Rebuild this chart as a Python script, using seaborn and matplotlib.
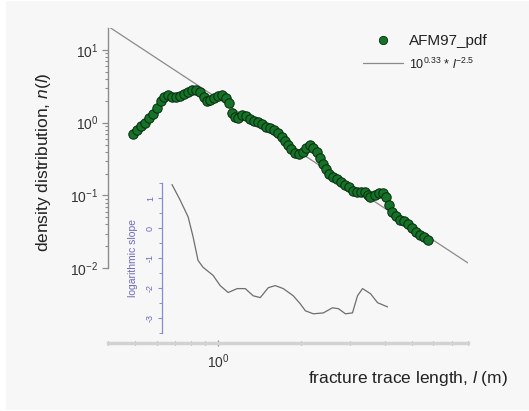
import numpy as np
import pandas as pd
import matplotlib
matplotlib.use("Agg")
import matplotlib.pyplot as plt
from matplotlib.patches import Rectangle
from matplotlib.lines import Line2D
from matplotlib.ticker import LogLocator, FixedLocator, NullFormatter, MultipleLocator
import seaborn as sns

# ---------------- data ----------------
trace_length = [0.492, 0.509, 0.526, 0.544, 0.562, 0.581, 0.601, 0.622, 0.637, 0.659,
                0.681, 0.704, 0.728, 0.753, 0.779, 0.805, 0.832, 0.861, 0.890, 0.912,
                0.935, 0.967, 1.000, 1.034, 1.069, 1.096, 1.124, 1.152, 1.182, 1.222,
                1.263, 1.306, 1.350, 1.396, 1.443, 1.492, 1.543, 1.595, 1.650, 1.706,
                1.749, 1.793, 1.838, 1.901, 1.965, 2.032, 2.084, 2.154, 2.209, 2.284,
                2.342, 2.401, 2.462, 2.525, 2.610, 2.699, 2.791, 2.885, 2.983, 3.084,
                3.189, 3.297, 3.381, 3.467, 3.554, 3.675, 3.800, 3.929, 4.029, 4.130,
                4.235, 4.379, 4.528, 4.681, 4.840, 5.004, 5.174, 5.350, 5.532, 5.719]
density = [0.707, 0.802, 0.910, 1.000, 1.171, 1.328, 1.605, 2.001, 2.271, 2.419,
           2.271, 2.271, 2.343, 2.496, 2.659, 2.832, 2.832, 2.659, 2.271, 2.001,
           2.066, 2.200, 2.343, 2.419, 2.200, 1.879, 1.371, 1.208, 1.171, 1.287,
           1.247, 1.134, 1.065, 1.032, 0.969, 0.882, 0.854, 0.802, 0.730, 0.643,
           0.567, 0.500, 0.440, 0.388, 0.376, 0.401, 0.455, 0.500, 0.455, 0.401,
           0.332, 0.274, 0.234, 0.200, 0.182, 0.166, 0.155, 0.141, 0.129, 0.117,
           0.110, 0.110, 0.110, 0.100, 0.0939, 0.100, 0.107, 0.107, 0.0939, 0.0729,
           0.0585, 0.0516, 0.0455, 0.0441, 0.0401, 0.0353, 0.0311, 0.0283, 0.0266, 0.0242]

slope_length = [0.681, 0.728, 0.779, 0.812, 0.846, 0.882, 0.959, 1.017, 1.087, 1.172,
                1.253, 1.339, 1.420, 1.518, 1.609, 1.720, 1.869, 1.982, 2.067, 2.209,
                2.401, 2.588, 2.722, 2.885, 3.059, 3.189, 3.325, 3.554, 3.769, 4.097]
log_slope = [1.45, 0.94, 0.37, -0.30, -1.08, -1.31, -1.58, -1.92, -2.15, -2.02,
             -2.02, -2.26, -2.32, -1.99, -1.92, -2.02, -2.26, -2.53, -2.76, -2.86,
             -2.83, -2.66, -2.69, -2.86, -2.83, -2.26, -2.02, -2.19, -2.49, -2.63]

fit_log_coef = 0.33
fit_exponent = -2.5
fit_range = [0.4, 8.0]

y_ticks = [0.01, 0.1, 1, 10]
y_ticklabels = ["10$^{-2}$", "10$^{-1}$", "10$^{0}$", "10$^{1}$"]
x_ticks = [1]
x_ticklabels = ["10$^{0}$"]
slope_ticks = [1, 0, -1, -2, -3]

# ---------------- style ----------------
sns.set_style("ticks")
plt.rcParams["font.family"] = ["Liberation Sans", "DejaVu Sans"]
plt.rcParams["mathtext.fontset"] = "custom"
plt.rcParams["mathtext.rm"] = "Liberation Sans"
plt.rcParams["mathtext.it"] = "Liberation Sans:italic"
plt.rcParams["mathtext.bf"] = "Liberation Sans:bold"

W, H = 529, 411
fig = plt.figure(figsize=(W / 100, H / 100), dpi=100)
fig.patch.set_facecolor("white")
fig.patches.append(Rectangle((6 / W, 1 / H), 1 - 6 / W, 1 - 2 / H, transform=fig.transFigure,
                             facecolor="#f7f7f7", edgecolor="none", zorder=-10))

def fx(px):
    return px / W

def fy(py):
    return 1 - py / H

y_top = 10 ** 1.301

# main axes: x 108..468 px, y 28..343 px
ax = fig.add_axes([fx(108), fy(343), fx(468) - fx(108), fy(28) - fy(343)])
ax.set_facecolor("none")
ax.set_xscale("log")
ax.set_yscale("log")
ax.set_xlim(0.4, 8.0)
ax.set_ylim(10 ** -3.027, y_top)

df = pd.DataFrame({"length": trace_length, "density": density})
fit_x = np.array(fit_range)
fit_df = pd.DataFrame({"length": fit_x, "fit": 10 ** fit_log_coef * fit_x ** fit_exponent})

green = "#147328"
dark = "#072a0e"
sns.lineplot(data=fit_df, x="length", y="fit", ax=ax, color="#8a8a8a", lw=0.9, zorder=2)
sns.scatterplot(data=df, x="length", y="density", ax=ax, color=green,
                edgecolor=dark, linewidth=0.7, s=46, zorder=3)

for side in ["top", "right"]:
    ax.spines[side].set_visible(False)
ax.spines["left"].set_bounds(0.01, y_top)
ax.spines["left"].set_color("#8c8c8c")
ax.spines["left"].set_linewidth(1.0)
ax.spines["bottom"].set_color("#d2d2d2")
ax.spines["bottom"].set_linewidth(2.5)

ax.yaxis.set_major_locator(FixedLocator(y_ticks))
ax.set_yticklabels(y_ticklabels)
minor_y = [m * 10.0 ** e for e in (-2, -1, 0, 1) for m in range(2, 10) if m * 10.0 ** e <= y_top]
ax.yaxis.set_minor_locator(FixedLocator(minor_y))
ax.yaxis.set_minor_formatter(NullFormatter())
ax.xaxis.set_major_locator(FixedLocator(x_ticks))
ax.set_xticklabels(x_ticklabels)
ax.xaxis.set_minor_locator(LogLocator(base=10, subs=np.arange(2, 10), numticks=20))
ax.xaxis.set_minor_formatter(NullFormatter())

ax.tick_params(axis="y", which="major", length=4, width=0.9, color="#8c8c8c",
               labelsize=10, labelcolor="#333333", pad=3)
ax.tick_params(axis="y", which="minor", length=2.5, width=0.8, color="#8c8c8c")
ax.tick_params(axis="x", which="major", length=4, width=0.9, color="#8c8c8c", direction="inout",
               labelsize=10, labelcolor="#333333", pad=5)
ax.tick_params(axis="x", which="minor", length=2.5, width=0.8, color="#8c8c8c", direction="inout")
ax.set_xlabel("")
ax.set_ylabel("")

fig.text(fx(508), fy(378), "fracture trace length, $\\mathit{l}$ (m)", ha="right", va="center",
         fontsize=12.5, color="#222222")
fig.text(fx(44), fy(162), "density distribution, $\\mathit{n}$($\\mathit{l}$)", ha="center",
         va="center", rotation=90, fontsize=12.5, color="#222222")

# legend
handles = [Line2D([], [], marker="o", ls="none", markersize=6, markerfacecolor=green,
                  markeredgecolor=dark, markeredgewidth=0.6),
           Line2D([], [], color="#8a8a8a", lw=0.9)]
labels = ["AFM97_pdf", "10$^{0.33}$ * $\\mathit{l}$$^{-2.5}$"]
leg = ax.legend(handles, labels, loc="upper left", bbox_to_anchor=(fx(363), fy(34)),
                bbox_transform=fig.transFigure, frameon=False, handlelength=2.6,
                handletextpad=0.4, borderpad=0, borderaxespad=0, labelspacing=0.55,
                fontsize=11)
leg.get_texts()[1].set_fontsize(9)
for t in leg.get_texts():
    t.set_color("#222222")

# inset: logarithmic slope
inset_left = 162
x0 = 10 ** ((inset_left - 218) / 276)
ax2 = fig.add_axes([fx(inset_left), fy(333), fx(468) - fx(inset_left), fy(183) - fy(333)])
ax2.set_facecolor("none")
ax2.set_xscale("log")
ax2.set_xlim(x0, 8.0)
ax2.set_ylim(-3.5, 1.5)
sdf = pd.DataFrame({"length": slope_length, "slope": log_slope})
sns.lineplot(data=sdf, x="length", y="slope", ax=ax2, color="#6e6e6e", lw=0.9)
for side in ["top", "right", "bottom"]:
    ax2.spines[side].set_visible(False)
blue = "#8a8ad0"
ax2.spines["left"].set_color(blue)
ax2.spines["left"].set_linewidth(0.9)
ax2.set_xticks([])
ax2.xaxis.set_minor_locator(FixedLocator([]))
ax2.set_xlabel("")
ax2.yaxis.set_major_locator(FixedLocator(slope_ticks))
ax2.yaxis.set_minor_locator(MultipleLocator(0.5))
ax2.set_yticklabels([str(v) for v in slope_ticks], rotation=90, va="center")
ax2.tick_params(axis="y", which="major", length=3, width=0.8, color=blue, labelsize=6.5,
                labelcolor="#6a6ac0", pad=2)
ax2.tick_params(axis="y", which="minor", length=2, width=0.7, color=blue)
ax2.set_ylabel("logarithmic slope", fontsize=7.5, color="#6a6ac0", labelpad=6)

fig.savefig("out.png", dpi=100, facecolor=fig.get_facecolor())
